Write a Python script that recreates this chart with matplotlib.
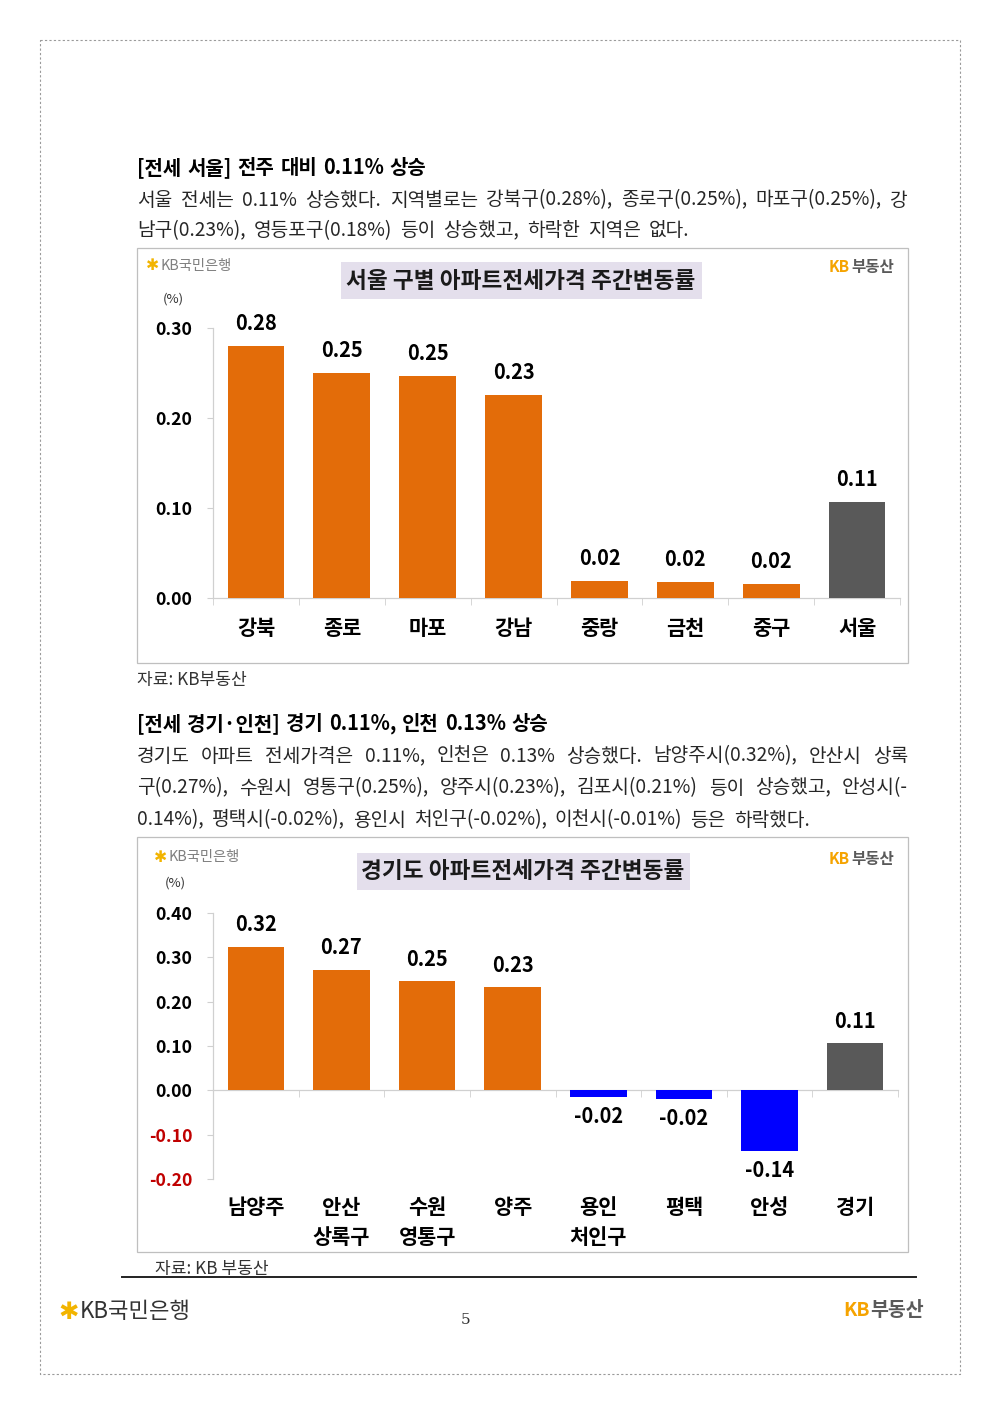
import matplotlib
matplotlib.use('Agg')
import matplotlib.pyplot as plt
from matplotlib.patches import Rectangle
from matplotlib.ticker import FixedLocator, NullFormatter

plt.rcParams['font.family'] = ['Noto Sans CJK KR', 'DejaVu Sans']

# ---------------- data ----------------
seoul_cats = ['강북', '종로', '마포', '강남', '중랑', '금천', '중구', '서울']
seoul_vals = [0.280, 0.250, 0.247, 0.226, 0.019, 0.018, 0.016, 0.107]
seoul_yticks = [0.00, 0.10, 0.20, 0.30]

gg_cats = ['남양주', '안산\n상록구', '수원\n영통구', '양주', '용인\n처인구', '평택', '안성', '경기']
gg_vals = [0.323, 0.271, 0.246, 0.232, -0.016, -0.019, -0.136, 0.106]
gg_yticks = [-0.20, -0.10, 0.00, 0.10, 0.20, 0.30, 0.40]

ORANGE = '#E36C09'
GREY = '#595959'
BLUE = '#0000FF'
RED = '#C00000'
TXT = '#262626'

W, H = 1000, 1414
fig = plt.figure(figsize=(W / 100, H / 100), dpi=100)
fig.patch.set_facecolor('white')
bg = fig.add_axes([0, 0, 1, 1], zorder=0)
bg.set_xlim(0, W)
bg.set_ylim(H, 0)
bg.axis('off')

renderer = fig.canvas.get_renderer()


def line_text(y, text, x0, x1, size, weight='normal', justify=True, color=TXT, space=0.42):
    words = text.split(' ')
    ts = [bg.text(0, y, w, fontsize=size, fontweight=weight, va='center', ha='left', color=color)
          for w in words]
    widths = [t.get_window_extent(renderer).width for t in ts]
    if justify and len(words) > 1:
        gap = (x1 - x0 - sum(widths)) / (len(words) - 1)
    else:
        gap = size * 100 / 72 * space
    x = x0
    for t, w in zip(ts, widths):
        t.set_x(x)
        x += w + gap


def kb_bank_logo(x, y, size, color='#7F7F7F'):
    t1 = bg.text(x, y, '✱', fontsize=size * 1.1, color='#F2B400', va='center', ha='left',
                 family=['DejaVu Sans'])
    w = t1.get_window_extent(renderer).width
    bg.text(x + w + 1, y, 'KB국민은행', fontsize=size, color=color, va='center', ha='left')


def kb_land_logo(x, y, size):
    t1 = bg.text(x, y, 'KB', fontsize=size, color='#F5A300', va='center', ha='left',
                 fontweight='bold')
    w = t1.get_window_extent(renderer).width
    bg.text(x + w + 1, y, '부동산', fontsize=size, color='#5A5A5A', va='center', ha='left',
            fontweight='bold')


# page border
bg.add_patch(Rectangle((40, 40), 920, 1334, fill=False, ec='#9A9A9A', lw=0.8,
                       ls=(0, (2, 2))))

BODY = 13.8
HEAD = 14.4

# ---------------- section 1 text ----------------
line_text(168, '[전세 서울] 전주 대비 0.11% 상승', 137, 433, HEAD, weight='bold', justify=False,
          color='black', space=0.3)
line_text(200, '서울 전세는 0.11% 상승했다. 지역별로는 강북구(0.28%), 종로구(0.25%), 마포구(0.25%), 강',
          137, 908, BODY)
line_text(231, '남구(0.23%), 영등포구(0.18%) 등이 상승했고, 하락한 지역은 없다.', 137, 908, BODY,
          justify=False)

# chart 1 box
bg.add_patch(Rectangle((137, 248), 771, 415, fill=False, ec='#BFBFBF', lw=0.9))
bg.add_patch(Rectangle((341, 262), 361, 37, fc='#E4DFEC', ec='none'))
bg.text(521, 281, '서울 구별 아파트전세가격 주간변동률', fontsize=16.3, fontweight='bold',
        ha='center', va='center', color='#1A1A1A')
kb_bank_logo(146, 266, 10.3)
kb_land_logo(829, 267, 11.2)
bg.text(173, 299, '(%)', fontsize=9.5, ha='center', va='center', color='#333333')
bg.text(137, 680, '자료: KB부동산', fontsize=12.3, ha='left', va='center', color='#333333')

# ---------------- section 2 text ----------------
line_text(724, '[전세 경기·인천] 경기 0.11%, 인천 0.13% 상승', 137, 543, HEAD, weight='bold',
          justify=False, color='black', space=0.3)
line_text(756, '경기도 아파트 전세가격은 0.11%, 인천은 0.13% 상승했다. 남양주시(0.32%), 안산시 상록',
          137, 908, BODY)
line_text(788, '구(0.27%), 수원시 영통구(0.25%), 양주시(0.23%), 김포시(0.21%) 등이 상승했고, 안성시(-',
          137, 908, BODY)
line_text(820, '0.14%), 평택시(-0.02%), 용인시 처인구(-0.02%), 이천시(-0.01%) 등은 하락했다.',
          137, 908, BODY, justify=False)

bg.add_patch(Rectangle((137, 837), 771, 415, fill=False, ec='#BFBFBF', lw=0.9))
bg.add_patch(Rectangle((357, 853), 333, 37, fc='#E4DFEC', ec='none'))
bg.text(523, 872, '경기도 아파트전세가격 주간변동률', fontsize=16.3, fontweight='bold',
        ha='center', va='center', color='#1A1A1A')
kb_bank_logo(154, 857, 10.3)
kb_land_logo(829, 859, 11.2)
bg.text(175, 883, '(%)', fontsize=9.5, ha='center', va='center', color='#333333')
bg.text(155, 1269, '자료: KB 부동산', fontsize=12.3, ha='left', va='center', color='#333333')

# footer
bg.plot([122, 916], [1277, 1277], color='#222222', lw=1.4)
kb_bank_logo(58, 1312, 16, color='#333333')
kb_land_logo(843, 1310, 14)
bg.text(466, 1320, '5', fontsize=11, family=['DejaVu Serif'], ha='center', va='center',
        color='#333333')


# ---------------- charts ----------------
def setup_axes(ax, cats, yticks, label_pad):
    n = len(cats)
    ax.set_xlim(-0.5, n - 0.5)
    for s in ['top', 'right']:
        ax.spines[s].set_visible(False)
    for s in ['left', 'bottom']:
        ax.spines[s].set_color('#D0D0D0')
        ax.spines[s].set_linewidth(0.9)
    ax.set_xticks(range(n))
    ax.set_xticklabels(cats, fontsize=15, fontweight='bold', linespacing=1.5)
    ax.xaxis.set_minor_locator(FixedLocator([i - 0.5 for i in range(n + 1)]))
    ax.xaxis.set_minor_formatter(NullFormatter())
    ax.tick_params(axis='x', which='major', length=0, pad=label_pad)
    ax.tick_params(axis='x', which='minor', length=5, color='#D0D0D0', direction='out')
    ax.set_yticks(yticks)
    ax.set_yticklabels([f'{v:.2f}' for v in yticks], fontsize=12.7, fontweight='bold')
    ax.tick_params(axis='y', length=4, color='#D0D0D0', pad=11)
    for lab, v in zip(ax.get_yticklabels(), yticks):
        lab.set_color(RED if v < 0 else 'black')
    ax.set_facecolor('none')


# chart 1
ax1 = fig.add_axes([213 / W, 1 - 598 / H, 687 / W, 270 / H], zorder=2)
ax1.set_ylim(0, 0.30)
colors1 = [GREY if c == '서울' else ORANGE for c in seoul_cats]
ax1.bar(range(len(seoul_cats)), seoul_vals, width=0.66, color=colors1, zorder=3)
setup_axes(ax1, seoul_cats, seoul_yticks, 14.5)
for i, v in enumerate(seoul_vals):
    ax1.annotate(f'{v:.2f}', (i, v), xytext=(0, 16), textcoords='offset points',
                 ha='center', va='center', fontsize=14.4, fontweight='bold',
                 annotation_clip=False)

# chart 2
ax2 = fig.add_axes([213 / W, 1 - 1179 / H, 685 / W, 266 / H], zorder=2)
ax2.spines['bottom'].set_position(('data', 0))
ax2.set_ylim(-0.20, 0.40)
colors2 = []
for c, v in zip(gg_cats, gg_vals):
    if c == '경기':
        colors2.append(GREY)
    elif v < 0:
        colors2.append(BLUE)
    else:
        colors2.append(ORANGE)
ax2.bar(range(len(gg_cats)), gg_vals, width=0.66, color=colors2, zorder=3)
setup_axes(ax2, gg_cats, gg_yticks, 77)
for i, v in enumerate(gg_vals):
    off = 16 if v >= 0 else -14
    ax2.annotate(f'{v:.2f}', (i, v), xytext=(0, off), textcoords='offset points',
                 ha='center', va='center', fontsize=14.4, fontweight='bold',
                 annotation_clip=False)

fig.savefig('out.png', dpi=100)
